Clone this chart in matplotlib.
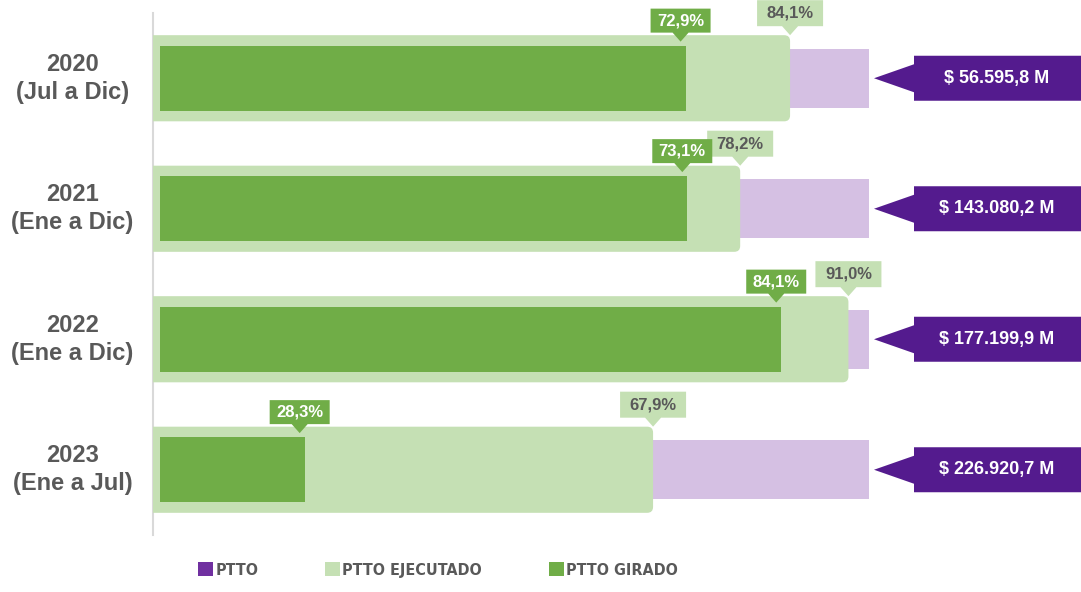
"""Budget execution by period: PTTO vs executed vs paid (bullet-style bars)."""

import matplotlib.pyplot as plt
import matplotlib.transforms as mtransforms
from matplotlib.patches import FancyBboxPatch, Polygon, Patch

PERIODS = ['2020\n(Jul a Dic)', '2021\n(Ene a Dic)', '2022\n(Ene a Dic)', '2023\n(Ene a Jul)']
PTTO_PCT = [100, 100, 100, 100]
EJECUTADO_PCT = [84.1, 78.2, 91.0, 67.9]
GIRADO_PCT = [72.9, 73.1, 84.1, 28.3]
PTTO_LABELS = ['$ 56.595,8 M', '$ 143.080,2 M', '$ 177.199,9 M', '$ 226.920,7 M']

PTTO_COLOUR = '#D5C0E3'
PTTO_DARK = '#541B8E'
PTTO_LEGEND = '#7030A0'
EJEC_COLOUR = '#C5E0B4'
GIRADO_COLOUR = '#70AD47'
TEXT_GREY = '#595959'

plt.rcParams['font.family'] = ['Liberation Sans', 'DejaVu Sans']

W, H = 1081, 592
fig = plt.figure(figsize=(W / 100, H / 100), dpi=100)

bottom, height = 1 - 535 / H, 522 / H
ax_ptto = fig.add_axes([153 / W, bottom, (869 - 153) / W, height])
ax_ejec = fig.add_axes([153 / W, bottom, (W - 153) / W, height])
ax_gir = fig.add_axes([160 / W, bottom, (W - 160) / W, height])

ax_ptto.set_xlim(0, 100)
ax_ejec.set_xlim(8.77, 118.5)
ax_gir.set_xlim(11.36, 119.2)

rows = list(range(len(PERIODS)))
for ax in (ax_ptto, ax_ejec, ax_gir):
    ax.set_ylim(3.5, -0.5)
    ax.patch.set_visible(False)
    for side in ('top', 'right', 'bottom', 'left'):
        ax.spines[side].set_visible(False)
    ax.set_xticks([])
    ax.set_yticks([])

# category labels and the thin vertical axis line
ax_ptto.spines['left'].set_visible(True)
ax_ptto.spines['left'].set_color('#D9D9D9')
ax_ptto.spines['left'].set_linewidth(1.5)
ax_ptto.set_yticks(rows, PERIODS)
ax_ptto.tick_params(axis='y', length=0, pad=58)
for lbl in ax_ptto.get_yticklabels():
    lbl.set_horizontalalignment('center')
    lbl.set_verticalalignment('center')
    lbl.set_fontsize(17)
    lbl.set_fontweight('bold')
    lbl.set_color(TEXT_GREY)
    lbl.set_linespacing(1.3)

# bars
ax_ptto.barh(rows, PTTO_PCT, height=0.45, color=PTTO_COLOUR)

px_x = 8.457  # pixels per % on the executed axis
px_y = 130.5  # pixels per row
for r, v in zip(rows, EJECUTADO_PCT):
    box = FancyBboxPatch(
        (0, r - 0.33), v, 0.66,
        boxstyle='round,pad=0,rounding_size=0.7',
        mutation_aspect=px_x / px_y,
        facecolor=EJEC_COLOUR, edgecolor='none',
    )
    ax_ejec.add_patch(box)

ax_gir.barh(rows, GIRADO_PCT, height=0.5, color=GIRADO_COLOUR)


def fmt_pct(v):
    return f'{v:.1f}%'.replace('.', ',')


def anchored(ax, x, y):
    """Transform where vertices are in inches relative to a data point."""
    return fig.dpi_scale_trans + mtransforms.ScaledTranslation(x, y, ax.transData)


def down_callout(ax, x, y, text, face, colour, w, tip_dx=0, tip_dy=0, box_h=25):
    tr = anchored(ax, x, y)
    tx, ty = tip_dx, tip_dy
    verts = [
        (tx, ty), (tx + 8, ty + 9), (tx + w / 2, ty + 9), (tx + w / 2, ty + 9 + box_h),
        (tx - w / 2, ty + 9 + box_h), (tx - w / 2, ty + 9), (tx - 8, ty + 9),
    ]
    poly = Polygon([(a / 100, b / 100) for a, b in verts], closed=True,
                   facecolor=face, edgecolor='none', transform=tr, clip_on=False)
    ax.add_patch(poly)
    ax.text(tx / 100, (ty + 9 + box_h / 2) / 100, text, transform=tr,
            ha='center', va='center', fontsize=12, fontweight='bold',
            color=colour, clip_on=False)


for r, v in zip(rows, EJECUTADO_PCT):
    down_callout(ax_ejec, v, r - 0.33, fmt_pct(v), EJEC_COLOUR, TEXT_GREY, 66, box_h=26)

for r, v in zip(rows, GIRADO_PCT):
    down_callout(ax_gir, v, r - 0.25, fmt_pct(v), GIRADO_COLOUR, 'white', 60,
                 tip_dx=-5, tip_dy=4, box_h=24)

# purple arrow callouts with the total budget
for r, v, txt in zip(rows, PTTO_PCT, PTTO_LABELS):
    tr = anchored(ax_ptto, v, r)
    verts = [(5, 0), (45, 14), (45, 22.5), (230, 22.5), (230, -22.5), (45, -22.5), (45, -14)]
    poly = Polygon([(a / 100, -b / 100) for a, b in verts], closed=True,
                   facecolor=PTTO_DARK, edgecolor='none', transform=tr, clip_on=False)
    ax_ptto.add_patch(poly)
    ax_ptto.text(1.28, 0, txt, transform=tr, ha='center', va='center',
                 fontsize=13, fontweight='bold', color='white', clip_on=False)

# legend
handles = [
    Patch(facecolor=PTTO_LEGEND, label='PTTO'),
    Patch(facecolor=EJEC_COLOUR, label='PTTO EJECUTADO'),
    Patch(facecolor=GIRADO_COLOUR, label='PTTO GIRADO'),
]
fig.legend(
    handles=handles, loc='center', bbox_to_anchor=(438 / W, 1 - 570 / H),
    ncol=3, frameon=False, borderpad=0,
    prop={'family': ['DejaVu Sans', 'Liberation Sans'], 'stretch': 'condensed',
          'weight': 'bold', 'size': 11.5},
    labelcolor=TEXT_GREY, handlelength=0.94, handleheight=1.0,
    handletextpad=0.12, columnspacing=4.2,
)

fig.savefig('out.png', dpi=100)
